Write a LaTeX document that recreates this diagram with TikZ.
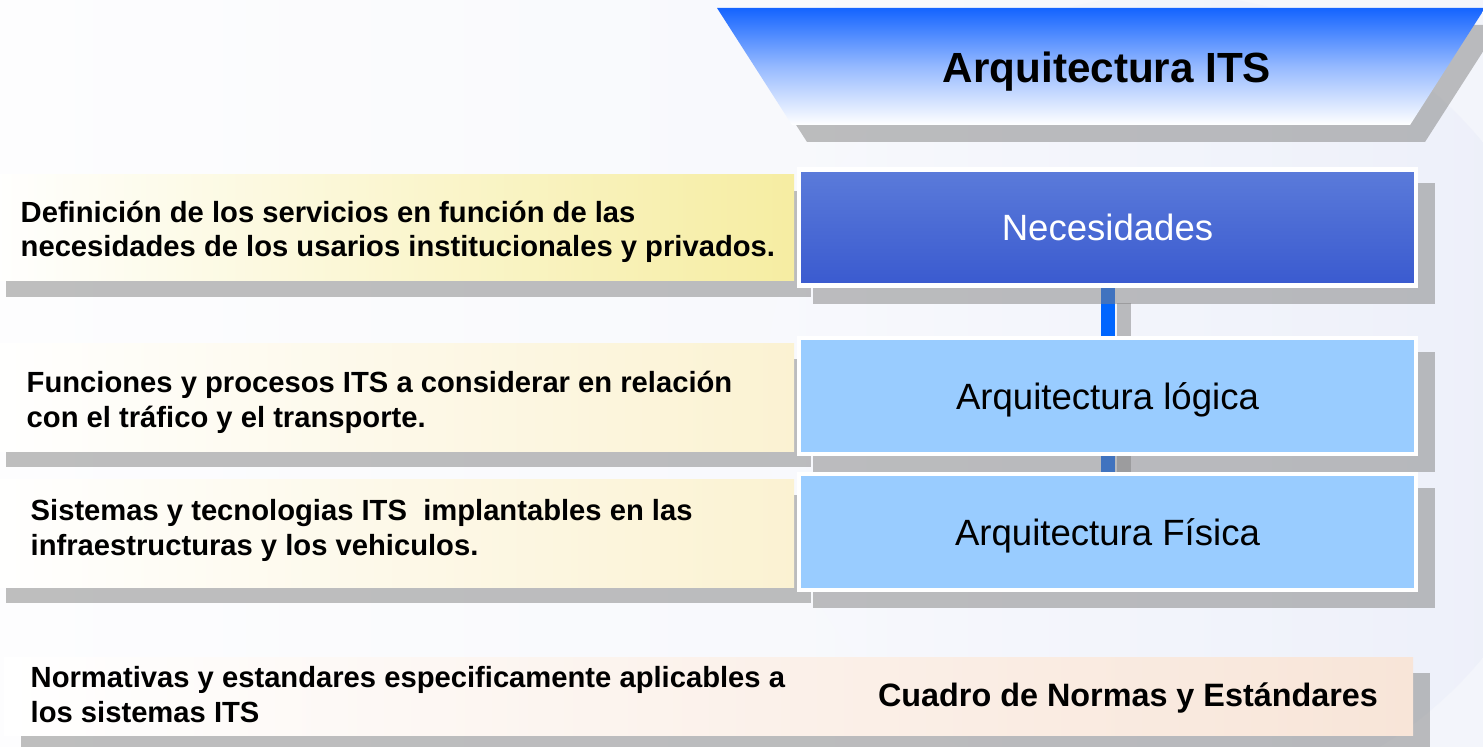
\documentclass[tikz,border=0pt]{standalone}
\usepackage{fontspec}
\setmainfont{Liberation Sans}
\usetikzlibrary{positioning}

\definecolor{bgleft}{HTML}{FDFDFE}
\definecolor{bgright}{HTML}{F3F5FB}
\definecolor{circleft}{HTML}{F8F9FD}
\definecolor{circright}{HTML}{ECEFF9}
\definecolor{titleblue}{HTML}{1464FF}
\definecolor{needtop}{HTML}{5B7BDA}
\definecolor{needbot}{HTML}{3A5ACF}
\definecolor{archblue}{HTML}{99CCFF}
\definecolor{barblue}{HTML}{0066FF}
\definecolor{stripyellow}{HTML}{F6EDA2}
\definecolor{stripcream}{HTML}{FBF2D2}
\definecolor{strippeach}{HTML}{F8E5D8}

\pgfdeclarelayer{back}
\pgfdeclarelayer{mid}
\pgfsetlayers{back,mid,main}

\tikzset{
  archbox/.style={draw=white, line width=0.045cm, fill=archblue, inner sep=0pt,
    minimum width=6.17cm, minimum height=1.16cm, text depth=0pt,
    font=\fontsize{10.4}{12}\selectfont},
  shadowfill/.style={fill=black!50, fill opacity=0.5},
  stripnote/.style={anchor=base west, align=left, inner sep=0pt,
    font=\fontsize{8.3}{9.7}\selectfont\bfseries},
  connbar/.style={draw=barblue, line width=0.14cm},
}

\begin{document}
\begin{tikzpicture}[x=0.01cm, y=-0.01cm]
\useasboundingbox (0,0) rectangle (1483,746);
\clip (0,0) rectangle (1483,746);

% title banner
\fill[shadowfill] (732,25) -- (1500,25) -- (1425,142) -- (807,142) -- cycle;
\shade[top color=titleblue, bottom color=white, middle color=titleblue!45!white]
  (717,8) -- (1485,8) -- (1410,125) -- (792,125) -- cycle;
\node[anchor=base, font=\fontsize{12}{14}\selectfont\bfseries] (title) at (1107,83) {Arquitectura ITS};

% levels
\node[archbox, top color=needtop, bottom color=needbot, text=white] (need) at (1107.5,227.5) {Necesidades};
\node[archbox, below=0.48cm of need] (logic) {Arquitectura lógica};
\node[archbox, below=0.155cm of logic] (phys) {Arquitectura Física};

% notes on the left (base = last line)
\node[stripnote] (defn) at (20,257) {Definición de los servicios en función de las\\necesidades de los usarios institucionales y privados.};
\node[stripnote] (func) at (26,427) {Funciones y procesos ITS a considerar en relación\\con el tráfico y el transporte.};
\node[stripnote] (syst) at (30,555) {Sistemas y tecnologias ITS~ implantables en las\\infraestructuras y los vehiculos.};
\node[stripnote] (norm) at (30,722) {Normativas y estandares especificamente aplicables a\\los sistemas ITS};
\node[anchor=base, font=\fontsize{9.2}{11}\selectfont\bfseries] (normbox) at (1128,706) {Cuadro de Normas y Estándares};

\begin{pgfonlayer}{back}
\clip (0,0) rectangle (1483,746);
\shade[left color=bgleft, right color=bgright] (0,0) rectangle (1483,746);
\shade[left color=circleft, right color=circright] (1170,400) circle (4.05cm);
\foreach \t/\b/\c in {175/281/stripyellow, 343/451/stripcream, 479/587/stripcream} {
  \fill[shadowfill] (6,\t+16) rectangle (811,\b+16);
  \shade[left color=white, right color=\c] (-11,\t) rectangle (794,\b);
}
\fill[shadowfill] (21,673) rectangle (1430,751);
\shade[left color=white, right color=strippeach] (4,657) rectangle (1413,735);
\draw[connbar] (need.south) -- (logic.north);
\draw[connbar] (logic.south) -- (phys.north);
\end{pgfonlayer}

\begin{pgfonlayer}{mid}
\foreach \n in {need,logic,phys}
  \fill[shadowfill] ([shift={(16,16)}]\n.north west) rectangle ([shift={(17,16)}]\n.south east);
\fill[shadowfill] ([shift={(9,15)}]need.south) rectangle ([xshift=0.23cm]logic.north);
\fill[shadowfill] ([xshift=0.09cm]logic.south) rectangle ([xshift=0.23cm]phys.north);
\end{pgfonlayer}
\end{tikzpicture}
\end{document}
